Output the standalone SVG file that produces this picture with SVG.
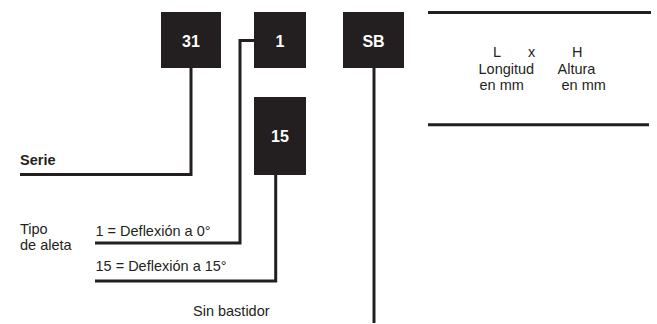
<svg xmlns="http://www.w3.org/2000/svg" width="657" height="324" viewBox="0 0 657 324">
<style>
.box{fill:#231f20}
.bt{font-family:"Liberation Sans",Arial,sans-serif;font-weight:bold;font-size:16px;fill:#ffffff;text-anchor:middle}
.t{font-family:"Liberation Sans",Arial,sans-serif;font-size:14.5px;fill:#231f20}
.b{font-weight:bold}
.ln{fill:none;stroke:#231f20;stroke-width:3;stroke-linecap:butt;stroke-linejoin:miter}
</style>
<rect width="657" height="324" fill="#ffffff"/>
<g id="connectors">
<polyline class="ln" points="20,174.5 191,174.5 191,68"/>
<polyline class="ln" points="95,243 240,243 240,40.5 254,40.5"/>
<polyline class="ln" points="95,281 275.7,281 275.7,175"/>
<line class="ln" x1="374" y1="68" x2="374" y2="323"/>
<line class="ln" x1="428" y1="12.5" x2="651" y2="12.5"/>
<line class="ln" x1="428" y1="124.7" x2="649" y2="124.7"/>
</g>
<g id="node-31"><rect class="box" x="161" y="12" width="60" height="56"/><text class="bt" x="191" y="47">31</text></g>
<g id="node-1"><rect class="box" x="254" y="12" width="52" height="56"/><text class="bt" x="280" y="47">1</text></g>
<g id="node-SB"><rect class="box" x="343" y="12" width="61" height="56"/><text class="bt" x="373.5" y="47">SB</text></g>
<g id="node-15"><rect class="box" x="254" y="97" width="52" height="78"/><text class="bt" x="280" y="141.5">15</text></g>
<g id="labels">
<text class="t b" x="20" y="165">Serie</text>
<text class="t" x="20" y="234">Tipo</text>
<text class="t" x="20" y="250">de aleta</text>
<text class="t" x="95.5" y="236">1 = Deflexión a 0°</text>
<text class="t" x="95.5" y="271">15 = Deflexión a 15°</text>
<text class="t" x="193" y="316">Sin bastidor</text>
<text class="t" x="493" y="57">L</text>
<text class="t" x="528" y="57">x</text>
<text class="t" x="572" y="57">H</text>
<text class="t" x="478.5" y="74">Longitud</text>
<text class="t" x="557.5" y="74">Altura</text>
<text class="t" x="479.5" y="90">en mm</text>
<text class="t" x="561.5" y="90">en mm</text>
</g>
</svg>
